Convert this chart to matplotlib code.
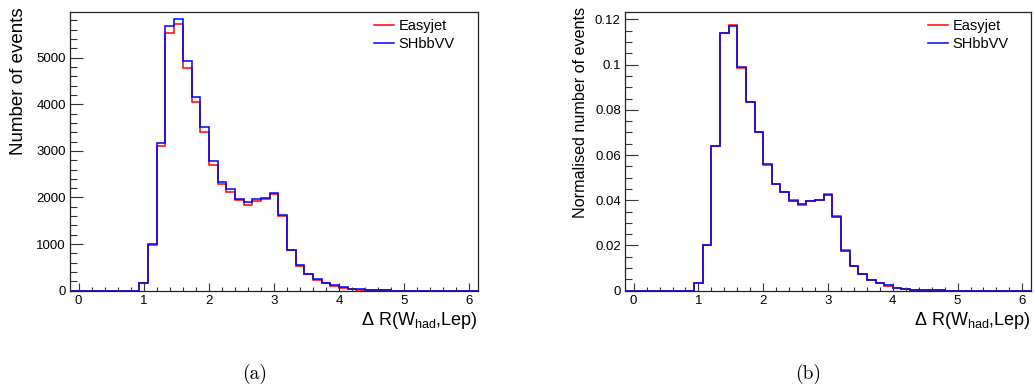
import numpy as np
import matplotlib.pyplot as plt
from matplotlib.ticker import MultipleLocator

plt.rcParams['font.family'] = ['Liberation Sans', 'DejaVu Sans']
plt.rcParams['mathtext.default'] = 'regular'

# binning: 47 bins of width 2/15 from -2/15 to 6.133
x_lo, x_hi, n_bins = -2 / 15, 92 / 15, 47
edges = np.linspace(x_lo, x_hi, n_bins + 1)

# number of events per bin (bins 0..46)
easyjet_counts = [0, 0, 0, 0, 0, 0, 0, 0, 157, 980, 3104, 5536, 5715, 4771, 4041, 3398,
                  2690, 2282, 2110, 1938, 1838, 1925, 1961, 2075, 1610, 867, 537, 352, 230,
                  165, 107, 64, 43, 24, 14, 8, 5, 3, 2, 1, 0, 0, 0, 0, 0, 0, 0]
shbbvv_counts = [0, 0, 0, 0, 0, 0, 0, 0, 170, 1000, 3176, 5680, 5822, 4935, 4163, 3505,
                 2782, 2339, 2175, 1967, 1905, 1960, 1996, 2103, 1625, 870, 551, 358, 245,
                 172, 116, 70, 46, 26, 15, 9, 5, 3, 2, 1, 0, 0, 0, 0, 0, 0, 0]

# normalised
easyjet_norm = [0, 0, 0, 0, 0, 0, 0, 0, 0.0034, 0.0200, 0.0640, 0.1141, 0.1176, 0.0983,
                0.0834, 0.0701, 0.0556, 0.0471, 0.0437, 0.0400, 0.0379, 0.0397, 0.0403,
                0.0429, 0.0331, 0.0179, 0.0111, 0.0073, 0.0048, 0.0034, 0.0022, 0.0013,
                0.0009, 0.0005, 0.0003, 0.0002, 0.0001, 0, 0, 0, 0, 0, 0, 0, 0, 0, 0]
shbbvv_norm = [0, 0, 0, 0, 0, 0, 0, 0, 0.0035, 0.0202, 0.0641, 0.1142, 0.1171, 0.0991,
               0.0836, 0.0703, 0.0560, 0.0472, 0.0438, 0.0396, 0.0382, 0.0395, 0.0401,
               0.0422, 0.0327, 0.0175, 0.0111, 0.0072, 0.0049, 0.0035, 0.0023, 0.0014,
               0.0009, 0.0005, 0.0003, 0.0002, 0.0001, 0, 0, 0, 0, 0, 0, 0, 0, 0, 0]

labels = ['Easyjet', 'SHbbVV']
colors = ['#ff0000', '#0000ff']
xtitle = r'Δ R(W$_{had}$,Lep)'

fig = plt.figure(figsize=(10.35, 3.9), dpi=100)
W, H = 1035, 390


def make_axes(x0, x1, y0, y1):
    return fig.add_axes([x0 / W, 1 - y1 / H, (x1 - x0) / W, (y1 - y0) / H])


def style(ax, ymax, ymajor, yminor):
    ax.set_xlim(x_lo, x_hi)
    ax.set_ylim(0, ymax)
    ax.xaxis.set_major_locator(MultipleLocator(1))
    ax.xaxis.set_minor_locator(MultipleLocator(0.2))
    ax.yaxis.set_major_locator(MultipleLocator(ymajor))
    ax.yaxis.set_minor_locator(MultipleLocator(yminor))
    ax.tick_params(axis='both', which='both', direction='in', top=False, right=False,
                   labelsize=9.5, width=0.8, color='#333333')
    ax.tick_params(axis='y', which='major', length=9.4, pad=3)
    ax.tick_params(axis='y', which='minor', length=5)
    ax.tick_params(axis='x', which='major', length=5.8, pad=3)
    ax.tick_params(axis='x', which='minor', length=2.9)
    for s in ax.spines.values():
        s.set_linewidth(0.9)
        s.set_color('#222222')


# (a) number of events
ax1 = make_axes(70, 478, 11.7, 290.7)
ax1.stairs(easyjet_counts, edges, color=colors[0], lw=1.1, label=labels[0])
ax1.stairs(shbbvv_counts, edges, color=colors[1], lw=1.1, label=labels[1])
style(ax1, 5987, 1000, 200)
ax1.set_ylabel('Number of events', fontsize=13.5, loc='top')
ax1.yaxis.set_label_coords(-0.105, 1.015)
ax1.set_xlabel(xtitle, fontsize=13, loc='right')
ax1.xaxis.set_label_coords(1.0, -0.07)
ax1.legend(loc='upper left', bbox_to_anchor=((374 - 70) / 408, 0.975), frameon=False,
           fontsize=10.5, handlelength=1.35, handletextpad=0.35, labelspacing=0.28,
           borderpad=0, borderaxespad=0)

# (b) normalised
ax2 = make_axes(625, 1031, 11.7, 290.7)
ax2.stairs(easyjet_norm, edges, color=colors[0], lw=1.1, label=labels[0])
ax2.stairs(shbbvv_norm, edges, color=colors[1], lw=1.1, label=labels[1])
style(ax2, 0.1234, 0.02, 0.005)
ax2.set_yticklabels(['0' if v == 0 else f'{v:g}' for v in ax2.get_yticks()])
ax2.set_ylabel('Normalised number of events', fontsize=11.6, loc='top')
ax2.yaxis.set_label_coords(-0.091, 1.017)
ax2.set_xlabel(xtitle, fontsize=13, loc='right')
ax2.xaxis.set_label_coords(1.0, -0.07)
ax2.legend(loc='upper left', bbox_to_anchor=((928 - 625) / 406, 0.975), frameon=False,
           fontsize=10.5, handlelength=1.35, handletextpad=0.35, labelspacing=0.28,
           borderpad=0, borderaxespad=0)

fig.text(255 / W, 1 - 374 / H, '(a)', fontsize=14, family='cmr10', ha='center', va='center')
fig.text(808 / W, 1 - 374 / H, '(b)', fontsize=14, family='cmr10', ha='center', va='center')

fig.savefig('out.png', dpi=100)
